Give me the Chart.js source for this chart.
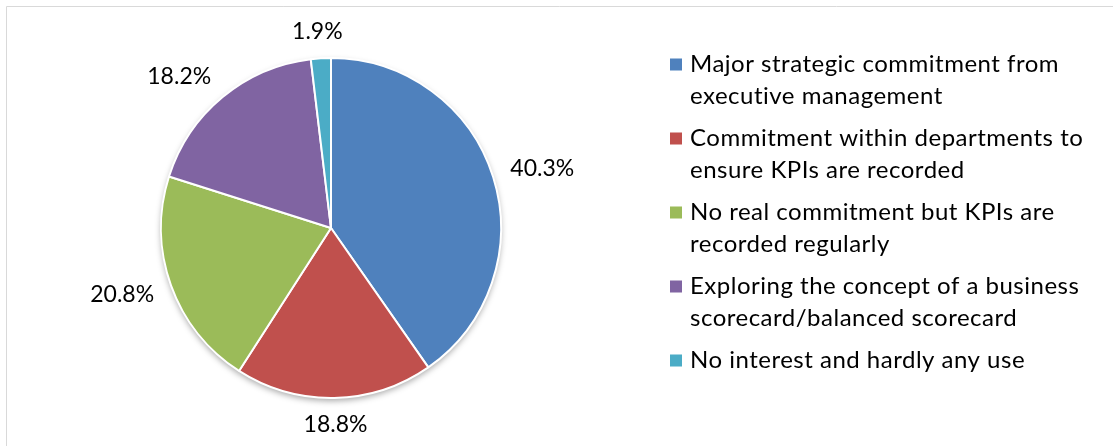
<!DOCTYPE html>
<html>
<head>
<meta charset="utf-8">
<title>KPI commitment</title>
<script src="https://cdn.jsdelivr.net/npm/chart.js@4.4.1/dist/chart.umd.min.js"></script>
<style>
  html, body { margin: 0; padding: 0; background: #fff; }
  #wrap { position: relative; width: 1113px; height: 446px; }
</style>
</head>
<body>
<div id="wrap"><canvas id="chartCanvas" width="1113" height="446"></canvas></div>
<script>
// legend text, one entry per slice (lines as they wrap)
const categories = [
  ['Major strategic commitment from', 'executive management'],
  ['Commitment within departments to', 'ensure KPIs are recorded'],
  ['No real commitment but KPIs are', 'recorded regularly'],
  ['Exploring the concept of a business', 'scorecard/balanced scorecard'],
  ['No interest and hardly any use']
];
const shares = [40.3, 18.8, 20.8, 18.2, 1.9];
const colors = ['#4f81bd', '#c0504d', '#9bbb59', '#8064a2', '#4bacc6'];

const LABEL_FONT = '23px Lato';
const LEGEND_FONT = '24px Lato';

// light frame round the chart area
const framePlugin = {
  id: 'frame',
  beforeDraw(chart) {
    const ctx = chart.ctx;
    ctx.save();
    ctx.strokeStyle = '#d9d9d9';
    ctx.lineWidth = 1;
    ctx.beginPath();
    ctx.moveTo(6.5, chart.height);
    ctx.lineTo(6.5, 6.5);
    ctx.lineTo(chart.width, 6.5);
    ctx.stroke();
    ctx.restore();
  }
};

// soft drop shadow under the pie
const shadowPlugin = {
  id: 'pieShadow',
  beforeDatasetsDraw(chart) {
    const arc = chart.getDatasetMeta(0).data[0];
    if (!arc) return;
    const { x, y, outerRadius } = arc.getProps(['x', 'y', 'outerRadius'], true);
    const ctx = chart.ctx;
    ctx.save();
    ctx.shadowColor = 'rgba(0,0,0,0.35)';
    ctx.shadowBlur = 6;
    ctx.shadowOffsetY = 3;
    ctx.fillStyle = '#fff';
    ctx.beginPath();
    ctx.arc(x, y, outerRadius, 0, Math.PI * 2);
    ctx.fill();
    ctx.restore();
  }
};

// percentage labels just outside each slice
const labelPlugin = {
  id: 'sliceLabels',
  afterDatasetsDraw(chart) {
    const ctx = chart.ctx;
    const meta = chart.getDatasetMeta(0);
    ctx.save();
    ctx.font = LABEL_FONT;
    ctx.fillStyle = '#000';
    ctx.textAlign = 'center';
    ctx.textBaseline = 'middle';
    meta.data.forEach((arc, i) => {
      const p = arc.getProps(['x', 'y', 'startAngle', 'endAngle', 'outerRadius'], true);
      const mid = (p.startAngle + p.endAngle) / 2;
      const cos = Math.cos(mid), sin = Math.sin(mid);
      const r = p.outerRadius + 18;
      const text = shares[i].toFixed(1) + '%';
      const halfW = ctx.measureText(text).width / 2;
      const halfH = 9;
      const kx = Math.sign(cos) * Math.min(1, Math.abs(cos) * 1.6);
      const tx = p.x + cos * r + kx * halfW;
      const ty = p.y + sin * r + sin * halfH;
      ctx.fillText(text, tx, ty);
    });
    ctx.restore();
  }
};

// legend on the right with wrapped entries
const legendPlugin = {
  id: 'sideLegend',
  afterDraw(chart) {
    const ctx = chart.ctx;
    const left = 670, textX = 690;
    let baseline = 72;
    ctx.save();
    ctx.font = LEGEND_FONT;
    ctx.letterSpacing = '0.5px';
    ctx.textAlign = 'left';
    ctx.textBaseline = 'alphabetic';
    categories.forEach((lines, i) => {
      ctx.fillStyle = colors[i];
      ctx.fillRect(left, baseline - 13.5, 12, 12);
      ctx.fillStyle = '#000';
      lines.forEach((line, j) => {
        ctx.fillText(line, textX, baseline + j * 31.8);
      });
      baseline += 74;
    });
    ctx.restore();
  }
};

new Chart(document.getElementById('chartCanvas').getContext('2d'), {
  type: 'pie',
  data: {
    labels: categories.map(l => l.join(' ')),
    datasets: [{
      data: shares,
      backgroundColor: colors,
      borderColor: '#fff',
      borderWidth: 2
    }]
  },
  options: {
    responsive: false,
    animation: false,
    layout: { padding: { left: 160, right: 611, top: 57, bottom: 47 } },
    plugins: {
      legend: { display: false },
      tooltip: { enabled: false }
    }
  },
  plugins: [framePlugin, shadowPlugin, labelPlugin, legendPlugin]
});
</script>
</body>
</html>
